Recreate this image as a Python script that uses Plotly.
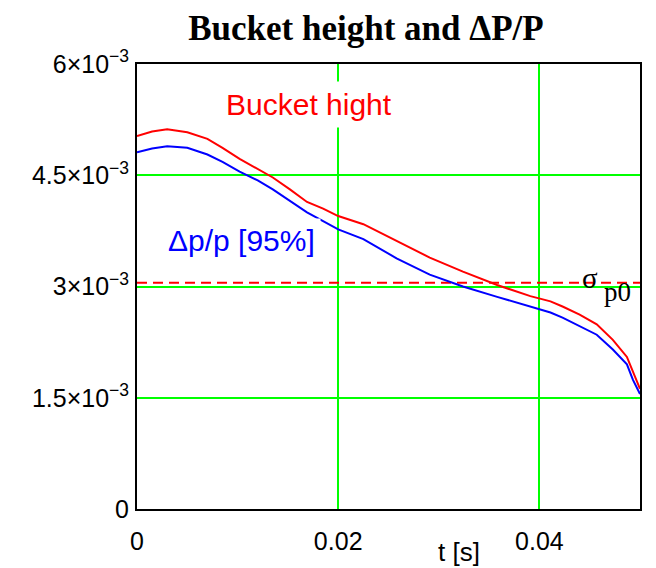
import plotly.graph_objects as go

# time axis [s]
t = [0.0, 0.0015, 0.003, 0.005, 0.007, 0.0085, 0.0102, 0.012, 0.0135, 0.0152,
     0.0169, 0.0185, 0.02, 0.0225, 0.0258, 0.0291, 0.0324, 0.0358, 0.0391,
     0.0411, 0.0423, 0.044, 0.0457, 0.0473, 0.0487, 0.0493, 0.05]

# bucket height (red)
bucket = [5.03e-3, 5.09e-3, 5.12e-3, 5.08e-3, 4.99e-3, 4.87e-3, 4.72e-3, 4.58e-3, 4.47e-3, 4.31e-3,
          4.14e-3, 4.05e-3, 3.95e-3, 3.84e-3, 3.62e-3, 3.39e-3, 3.20e-3, 3.02e-3, 2.87e-3,
          2.80e-3, 2.73e-3, 2.62e-3, 2.49e-3, 2.28e-3, 2.05e-3, 1.84e-3, 1.62e-3]

# dp/p 95% (blue)
dpp = [4.81e-3, 4.86e-3, 4.89e-3, 4.87e-3, 4.78e-3, 4.68e-3, 4.55e-3, 4.43e-3, 4.31e-3, 4.16e-3,
       4.00e-3, 3.88e-3, 3.77e-3, 3.64e-3, 3.38e-3, 3.16e-3, 3.00e-3, 2.86e-3, 2.73e-3,
       2.65e-3, 2.58e-3, 2.47e-3, 2.35e-3, 2.15e-3, 1.95e-3, 1.74e-3, 1.55e-3]

sigma_p0 = 3.05e-3
sigma_t = [0.0, 0.05]

x_ticks = [0, 0.02, 0.04]
x_ticktext = ["0", "0.02", "0.04"]
y_ticks = [0, 1.5e-3, 3e-3, 4.5e-3, 6e-3]
y_ticktext = ["0", "1.5×10<sup>−3</sup>", "3×10<sup>−3</sup>",
              "4.5×10<sup>−3</sup>", "6×10<sup>−3</sup>"]

fig = go.Figure()
fig.add_trace(go.Scatter(x=sigma_t, y=[sigma_p0, sigma_p0], mode="lines",
                         line=dict(color="#FF0000", width=2, dash="10px,6px"),
                         showlegend=False, hoverinfo="skip"))
fig.add_trace(go.Scatter(x=t, y=bucket, mode="lines",
                         line=dict(color="#FF0000", width=2), showlegend=False))
fig.add_trace(go.Scatter(x=t, y=dpp, mode="lines",
                         line=dict(color="#0000FF", width=2), showlegend=False))

sans = "Liberation Sans, Arial, sans-serif"
serif = "Liberation Serif, Times New Roman, serif"

fig.add_annotation(x=0.0171, y=5.46e-3, xref="x", yref="y", text="Bucket hight",
                   showarrow=False, font=dict(family=sans, size=30, color="#FF0000"),
                   bgcolor="white", borderpad=6)
fig.add_annotation(x=0.01034, y=3.62e-3, xref="x", yref="y", text="Δp/p [95%]",
                   showarrow=False, font=dict(family=sans, size=30, color="#0000FF"),
                   bgcolor="white", borderpad=5)
fig.add_annotation(x=0.04503, y=3.11e-3, xref="x", yref="y", text="σ",
                   showarrow=False, font=dict(family=serif, size=29, color="black"))
fig.add_annotation(x=0.04776, y=2.92e-3, xref="x", yref="y", text="p0",
                   showarrow=False, font=dict(family=serif, size=27, color="black"))
fig.add_annotation(x=0.64, y=0, xref="paper", yref="paper", yshift=-43,
                   yanchor="middle", text="t [s]", showarrow=False,
                   font=dict(family=sans, size=26, color="black"))

fig.update_layout(
    width=648, height=560,
    margin=dict(l=129, r=16, t=56, b=59, autoexpand=False),
    paper_bgcolor="white", plot_bgcolor="white",
    title=dict(text="Bucket height and ΔP/P", x=358 / 648, xanchor="center",
               y=1 - 20 / 560, yanchor="middle",
               font=dict(family=serif, size=35, color="black", weight="bold")),
    xaxis=dict(range=[0, 0.05], tickvals=x_ticks, ticktext=x_ticktext,
               showgrid=True, gridcolor="#00FF00", gridwidth=2, zeroline=False,
               showline=True, linecolor="black", linewidth=2, mirror=True,
               ticks="", ticklabelstandoff=9, automargin=False,
               tickfont=dict(family=sans, size=25, color="black")),
    yaxis=dict(range=[0, 6e-3], tickvals=y_ticks, ticktext=y_ticktext,
               showgrid=True, gridcolor="#00FF00", gridwidth=2, zeroline=False,
               showline=True, linecolor="black", linewidth=2, mirror=True,
               ticks="", ticklabelstandoff=1, automargin=False,
               tickfont=dict(family=sans, size=25, color="black")),
)

fig.write_html("out.html")
